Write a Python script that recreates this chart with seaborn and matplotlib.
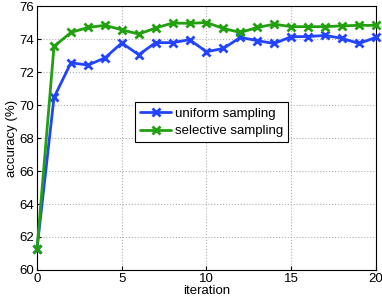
import numpy as np
import pandas as pd
import seaborn as sns
import matplotlib
matplotlib.use('Agg')
import matplotlib.pyplot as plt

iteration = list(range(21))
uniform = [61.3, 70.46, 72.56, 72.42, 72.85, 73.76, 73.05, 73.78, 73.78, 73.96,
           73.23, 73.43, 74.1, 73.9, 73.73, 74.14, 74.15, 74.22, 74.04, 73.73, 74.1]
selective = [61.3, 73.55, 74.4, 74.7, 74.83, 74.56, 74.3, 74.67, 74.97, 74.95,
             75.0, 74.64, 74.4, 74.7, 74.9, 74.75, 74.75, 74.75, 74.8, 74.83, 74.83]

blue = '#2244ff'
green = '#22a010'

sns.set_style('ticks')
plt.rcParams['font.family'] = ['Liberation Sans', 'DejaVu Sans']
plt.rcParams['font.size'] = 9.5
plt.rcParams['text.color'] = 'black'
plt.rcParams['axes.labelcolor'] = 'black'
plt.rcParams['xtick.color'] = 'black'
plt.rcParams['ytick.color'] = 'black'

fig = plt.figure(figsize=(3.82, 3.02), dpi=100)
ax = fig.add_axes([0.097, 0.106, 0.887, 0.874])

style = dict(marker='x', markersize=6, markeredgewidth=2, linewidth=2,
             clip_on=False, ax=ax)
sns.lineplot(x=iteration, y=uniform, color=blue, markeredgecolor=blue,
             label='uniform sampling', zorder=3, **style)
sns.lineplot(x=iteration, y=selective, color=green, markeredgecolor=green,
             label='selective sampling', zorder=4, **style)

ax.set_xlim(0, 20)
ax.set_ylim(60, 76)
ax.set_xticks([0, 5, 10, 15, 20])
ax.set_yticks(range(60, 77, 2))
ax.grid(True, ls=':', color='#b0b0b0', lw=0.8)
ax.tick_params(direction='in', length=3, labelsize=9.5, pad=2)
for s in ax.spines.values():
    s.set_linewidth(0.8)
    s.set_color('black')
ax.set_xlabel('iteration', fontsize=9.5, labelpad=0)
ax.set_ylabel('accuracy (%)', fontsize=9.5, labelpad=1)

leg = ax.legend(loc='upper left', bbox_to_anchor=(0.289, 0.636), frameon=True,
                fancybox=False, edgecolor='black', framealpha=1,
                fontsize=9.5, handlelength=2.35, borderpad=0.4, labelspacing=0.4,
                handletextpad=0.25, borderaxespad=0)
leg.get_frame().set_linewidth(0.8)
leg.set_zorder(10)

fig.savefig('out.png', dpi=100)
